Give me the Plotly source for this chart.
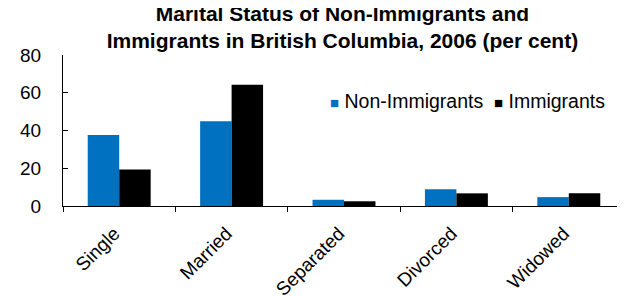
import plotly.graph_objects as go

categories = ["Single", "Married", "Separated", "Divorced", "Widowed"]
non_immigrants = [37.6, 44.9, 3.3, 8.9, 4.7]
immigrants = [19.3, 64.2, 2.5, 6.7, 6.8]
y_ticks = [0, 20, 40, 60, 80]
series_names = ["Non-Immigrants", "Immigrants"]
series_colors = ["#0070C0", "#000000"]

FONT = "Liberation Sans, Arial, sans-serif"

fig = go.Figure()
for name, vals, col in zip(series_names, [non_immigrants, immigrants], series_colors):
    fig.add_trace(go.Bar(x=categories, y=vals, name=name,
                         marker=dict(color=col, line=dict(width=0)),
                         showlegend=False))

legend_text = "&nbsp;&nbsp;".join(
    f"<span style='color:{c};font-size:15px'>■</span> {n}"
    for n, c in zip(series_names, series_colors)
)

# page body has an 8px default margin, so the figure is sized to the visible window
fig.update_layout(
    width=617, height=288,
    margin=dict(l=55, r=0, t=47, b=90, autoexpand=False),
    paper_bgcolor="white", plot_bgcolor="white",
    font=dict(family=FONT, color="black", size=19),
    barmode="group", bargap=0.44, bargroupgap=0,
    title=dict(text="<b>Marital Status of Non-Immigrants and<br>Immigrants in British Columbia, 2006 (per cent)</b>",
               x=0.542, xref="container", xanchor="center", y=0.955, yref="container", yanchor="top",
               font=dict(family=FONT, size=21, color="black")),
    annotations=[dict(text=legend_text, xref="paper", yref="paper", x=0.4715, y=0.695,
                      xanchor="left", yanchor="middle", showarrow=False,
                      font=dict(family=FONT, size=19.5, color="black"))],
    showlegend=False,
)
fig.update_xaxes(showline=True, linecolor="black", linewidth=1, automargin=False,
                 ticks="outside", tickson="boundaries", ticklen=5, tickcolor="black",
                 tickangle=-45, tickfont=dict(family=FONT, size=19),
                 showgrid=False, zeroline=False, ticklabelstandoff=8, ticklabelshift=-5)
fig.update_yaxes(range=[0, 80], tickvals=y_ticks, showline=True, linecolor="black",
                 linewidth=1, ticks="inside", ticklen=5, tickcolor="black", automargin=False,
                 tickfont=dict(family=FONT, size=19), showgrid=False, zeroline=False,
                 ticklabelstandoff=17)

fig.write_html("out.html")
